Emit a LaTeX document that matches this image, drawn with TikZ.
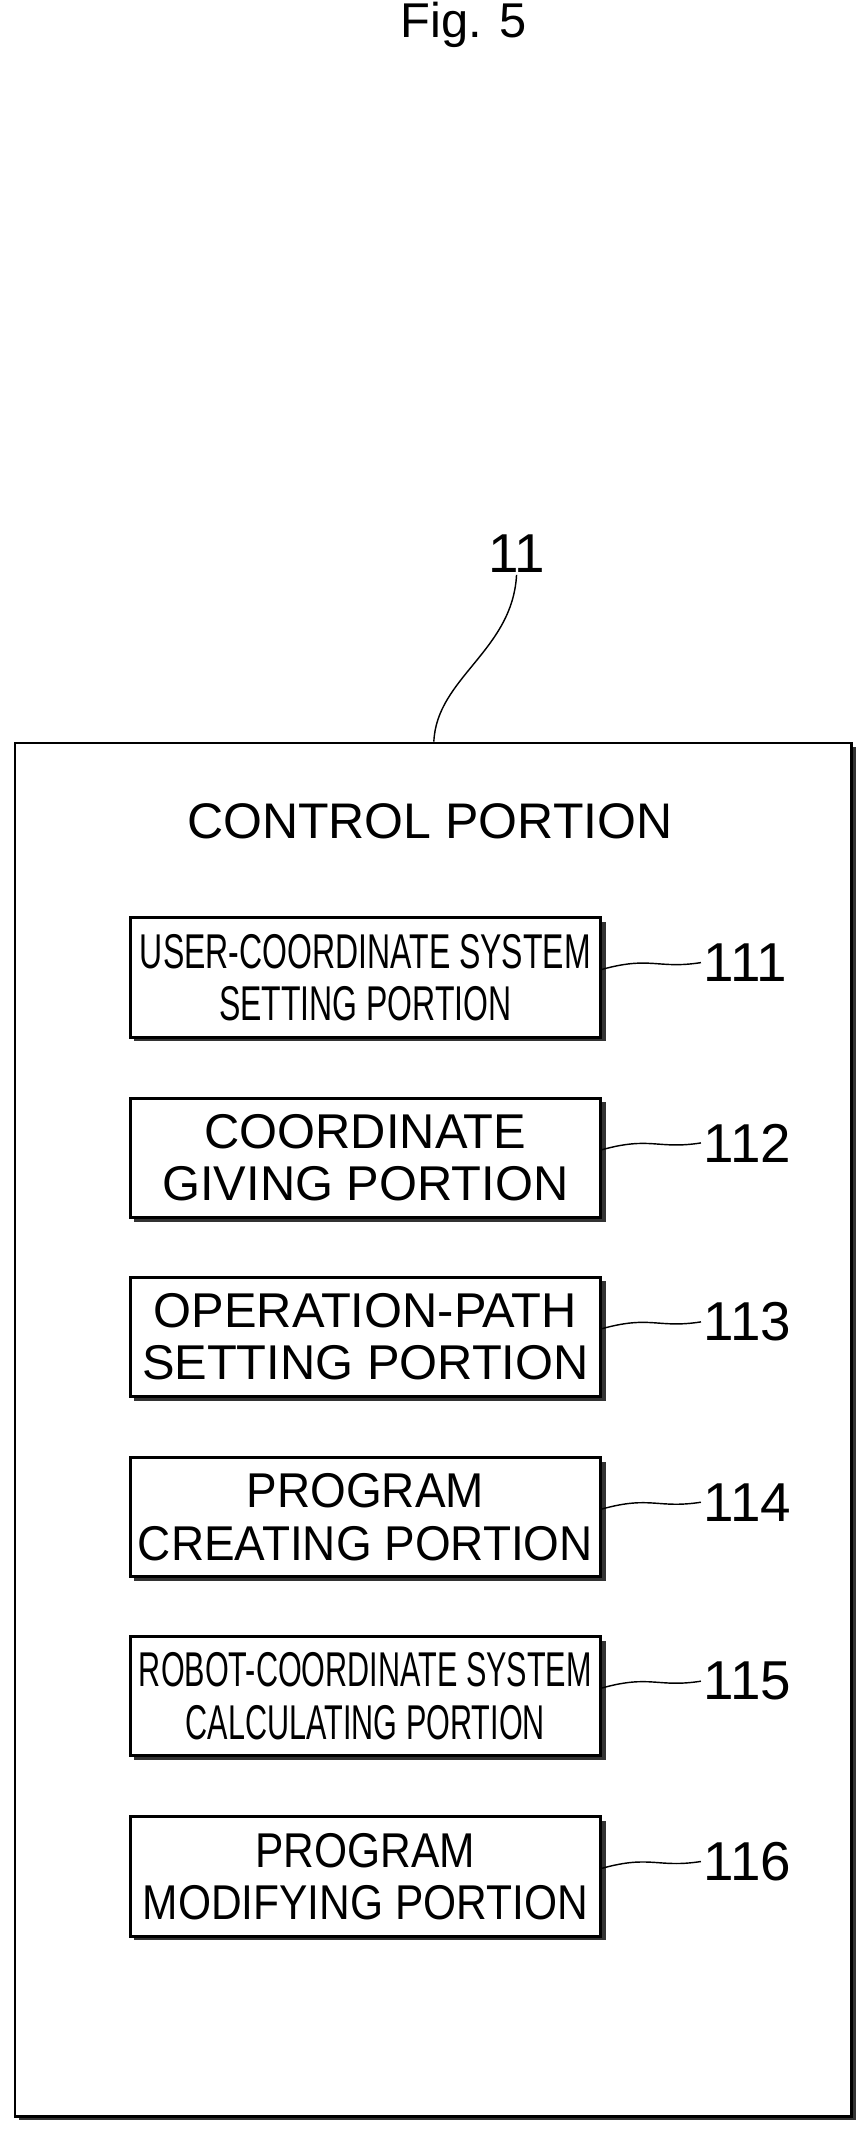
\documentclass[tikz,border=0pt]{standalone}
\usepackage{fontspec}
\setmainfont{Liberation Sans}
\usepackage{graphicx}
\usetikzlibrary{positioning}
\tikzset{
  part/.style={draw, line width=1.2pt, minimum width=347*0.02cm, minimum height=88*0.02cm,
    align=center, inner sep=0pt, font=\fontsize{20.5}{22}\selectfont},
  ref/.style={font=\fontsize{23}{25}\selectfont, inner sep=1pt},
  lead/.style={line width=0.6pt}
}
\newcommand{\narrow}[2]{\scalebox{#1}[1]{#2}}
\begin{document}
\begin{tikzpicture}[x=0.02cm, y=-0.02cm]
  \useasboundingbox (0,0) rectangle (640,1574);
  \node[font=\fontsize{20.5}{22}\selectfont] (fig) at (342,18) {Fig. 5};
  % control portion frame
  \fill[black!80] (14,551) rectangle (631,1564);
  \node[draw, fill=white, line width=1.2pt, minimum width=617*0.02cm, minimum height=1013*0.02cm,
    inner sep=0pt, anchor=north west] (ctrl) at (10,547) {};
  \node[font=\fontsize{21}{23}\selectfont] (title) at (317,606) {CONTROL PORTION};
  \node[ref] (n11) at (381,408) {11};
  \draw[lead] (ctrl.north -| 320,0) .. controls (322,500) and (378,480) .. (n11.south);
  % parts
  \foreach \y/\t/\n in {
      721/\narrow{0.655}{USER-COORDINATE SYSTEM}\\\narrow{0.655}{SETTING PORTION}/111,
      854/COORDINATE\\GIVING PORTION/112,
      986/OPERATION-PATH\\SETTING PORTION/113,
      1119/\narrow{0.94}{PROGRAM}\\\narrow{0.94}{CREATING PORTION}/114,
      1251/\narrow{0.626}{ROBOT-COORDINATE SYSTEM}\\\narrow{0.626}{CALCULATING PORTION}/115,
      1384/\narrow{0.87}{PROGRAM}\\\narrow{0.87}{MODIFYING PORTION}/116} {
    \fill[black!80] (99,\y-41) rectangle (447,\y+47);
    \node[part, fill=white] (p\n) at (269.5,\y) {\t};
    \node[ref, anchor=west] (r\n) at (517,\y-11) {\n};
    \draw[lead] (p\n.east) ++(0,-6) .. controls (480,\y-16) and (485,\y-6) .. (r\n.west);
  }
\end{tikzpicture}
\end{document}
